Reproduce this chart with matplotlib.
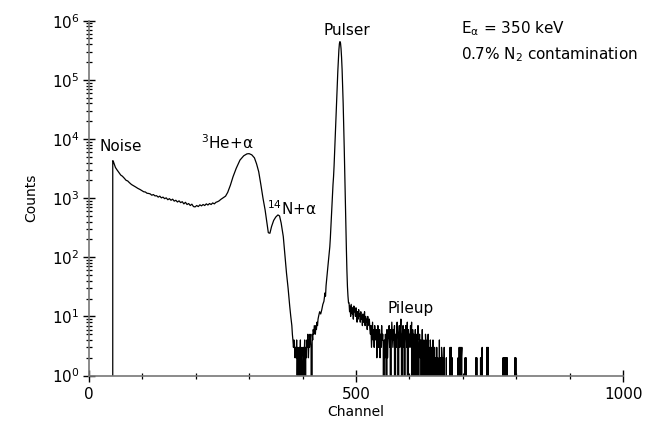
import numpy as np
import matplotlib
matplotlib.use("Agg")
import matplotlib.pyplot as plt
from matplotlib.ticker import LogLocator, MultipleLocator, FixedLocator, NullFormatter

# ---- data (channel, counts) ----
# noise edge + decay
noise_ch = [44, 45, 46, 48, 50, 53, 56, 60, 63, 66, 70, 73, 76, 80, 84, 88, 92, 96]
noise_cnt = [0, 4300, 4200, 3700, 3300, 3000, 2750, 2450, 2350, 2200, 2000, 1950,
             1830, 1700, 1620, 1540, 1460, 1400]

# plateau, every 3 channels from 100 to 250
plateau_ch = list(range(100, 251, 3))
plateau_cnt = [1330, 1280, 1270, 1210, 1200, 1180, 1120, 1150, 1090, 1100, 1040, 1080,
               1010, 1040, 980, 1010, 940, 980, 920, 960, 890, 920, 860, 900, 840, 870,
               800, 850, 780, 810, 750, 790, 720, 710, 750, 720, 770, 740, 780, 750,
               800, 765, 810, 780, 830, 800, 850, 870, 900, 950, 990]

# 3He + alpha peak and 14N + alpha peak
he_ch = [253, 256, 260, 265, 270, 276, 283, 290, 296, 300, 305, 310, 314, 318, 322,
         326, 330, 333, 336, 339, 342, 346, 350, 354, 357, 360, 364, 367, 370, 373,
         376, 378]
he_cnt = [1030, 1080, 1250, 1650, 2300, 3200, 4400, 5200, 5600, 5650, 5400, 4800,
          3800, 2800, 1700, 1000, 630, 400, 260, 255, 330, 420, 480, 520, 500, 380,
          224, 110, 54, 30, 15, 10]

# valley, one value per channel from 380
valley_start = 380
valley_cnt = [7, 5, 4, 3, 4, 3, 2, 3, 2, 4, 1, 3, 0, 2, 3, 1, 4, 0, 2, 3,
              1, 0, 3, 2, 4, 0, 3, 2, 4, 3, 5, 2, 4, 3, 5, 4, 3, 0, 5, 4,
              6, 5, 7, 6, 5, 7, 6, 8, 7, 9]

# pulser peak
pulser_ch = [430, 432, 434, 436, 438, 440, 442, 443, 444, 446, 448, 450, 451, 452,
             453, 454, 455, 456, 457, 458, 459, 460, 461, 462, 463, 464, 465, 466,
             467, 468, 469, 470, 471, 472, 473, 474, 475, 476, 477, 478, 479, 480,
             481, 482, 483, 484, 485, 486]
pulser_cnt = [10, 12, 11, 13, 16, 18, 25, 22, 33, 50, 79, 120, 150, 210, 320, 480,
              700, 1100, 1700, 2300, 3500, 6000, 10000, 17000, 30000, 50000, 85000,
              140000, 220000, 320000, 410000, 442000, 420000, 340000, 240000, 150000,
              80000, 40000, 18000, 7000, 2500, 900, 350, 140, 60, 32, 22, 17]

# pileup tail, one value per channel from 487 to 800
pileup_start = 487
pileup_cnt = [17, 12, 15, 10, 16, 13, 11, 14, 9, 15, 12, 13, 10, 14, 11, 8, 12, 9, 13, 10,
              11, 8, 12, 9, 10, 7, 11, 8, 9, 12, 7, 10, 8, 9, 6, 10, 7, 8, 9,
              6, 5, 7, 3, 5, 8, 4, 6, 3, 7, 5, 4, 6, 2, 5, 7, 3, 4, 6, 2, 5, 3, 7, 4, 5,
              3, 0, 4, 2, 5, 3, 0, 6, 2, 4,
              5, 7, 3, 6, 0, 4, 8, 5, 3, 6,
              4, 7, 0, 5, 3, 6, 8, 4, 0, 5,
              7, 3, 6, 9, 4, 0, 5, 7, 3, 6,
              0, 4, 7, 5, 3, 8, 0, 6, 4, 5,
              3, 7, 4, 8, 0, 6, 3, 5, 0, 4,
              6, 3, 0, 5, 4, 7, 0, 3, 5, 2,
              4, 0, 3, 6, 2, 0, 4, 3, 0, 5,
              3, 0, 4, 2, 5, 0, 3, 0, 4, 2,
              0, 3, 0, 4, 2, 0, 3, 0, 2, 0,
              3, 0, 2, 0, 0, 4, 0, 2, 0, 3,
              2, 0, 2, 0, 3, 0, 0, 0, 2, 0,
              0, 0, 0, 0, 0, 3, 0, 3, 0, 2,
              0, 0, 0, 0, 0, 0, 0, 0, 0, 0,
              2, 0, 3, 0, 3, 0, 2, 3, 0, 0,
              0, 0, 0, 2, 0, 2, 0, 0, 0, 0,
              0, 0, 0, 0, 0, 0, 0, 0, 0, 0,
              0, 0, 0, 2, 0, 2, 0, 0, 0, 0,
              0, 0, 2, 0, 2, 3, 0, 0, 0, 0,
              0, 0, 0, 0, 3, 0, 3, 0, 0, 0,
              0, 0, 0, 0, 0, 0, 0, 0, 0, 0,
              0, 0, 0, 0, 0, 0, 0, 0, 0, 0,
              0, 0, 0, 0, 2, 0, 2, 0, 2, 0,
              2, 0, 2, 0, 0, 0, 0, 0, 0, 0,
              0, 0, 0, 0, 0, 0, 2, 0, 2, 0,
              0, 0, 0, 0]

channels = (noise_ch + plateau_ch + he_ch
            + list(range(valley_start, valley_start + len(valley_cnt)))
            + pulser_ch
            + list(range(pileup_start, pileup_start + len(pileup_cnt))))
counts = noise_cnt + plateau_cnt + he_cnt + valley_cnt + pulser_cnt + pileup_cnt

plt.rcParams['font.family'] = ['DejaVu Sans']
plt.rcParams['mathtext.fontset'] = 'dejavusans'

fig = plt.figure(figsize=(6.57, 4.22), dpi=100)
ax = fig.add_axes([0.135, 0.110, 0.8137, 0.841])

ax.plot(channels, counts, color='black', lw=0.9)
ax.set_yscale('log', nonpositive='clip')
ax.set_xlim(0, 1000)
ax.set_ylim(1, 1e6)

ax.spines['top'].set_visible(False)
ax.spines['right'].set_visible(False)
for s in ['left', 'bottom']:
    ax.spines[s].set_color('#777777')
    ax.spines[s].set_linewidth(1.2)

ax.xaxis.set_major_locator(FixedLocator([0, 500, 1000]))
ax.xaxis.set_minor_locator(MultipleLocator(100))
ax.yaxis.set_major_locator(LogLocator(base=10, numticks=10))
ax.yaxis.set_minor_locator(LogLocator(base=10, subs=np.arange(2, 10), numticks=20))
ax.yaxis.set_minor_formatter(NullFormatter())
ax.tick_params(which='major', direction='inout', length=9, width=1, color='black',
               labelsize=11)
ax.tick_params(which='minor', direction='inout', length=5, width=0.9, color='black')
ax.tick_params(axis='x', pad=4)
ax.tick_params(axis='y', pad=2)

ax.set_xlabel('Channel', fontsize=10, labelpad=2)
ax.set_ylabel('Counts', fontsize=10, labelpad=10)

fs = 11
ax.text(21, 10**3.87, 'Noise', fontsize=fs, va='center', ha='left')
ax.text(210, 10**3.93, r'$^{3}$He+α', fontsize=fs, va='center', ha='left')
ax.text(333, 10**2.82, r'$^{14}$N+α', fontsize=fs, va='center', ha='left')
ax.text(483, 10**5.84, 'Pulser', fontsize=fs, va='center', ha='center')
ax.text(558, 10**1.14, 'Pileup', fontsize=fs, va='center', ha='left')
ax.text(696, 10**5.87, r'E$_\mathregular{α}$ = 350 keV', fontsize=fs, va='center', ha='left')
ax.text(696, 10**5.42, r'0.7% N$_\mathregular{2}$ contamination', fontsize=fs,
        va='center', ha='left')

fig.savefig('out.png', dpi=100)
